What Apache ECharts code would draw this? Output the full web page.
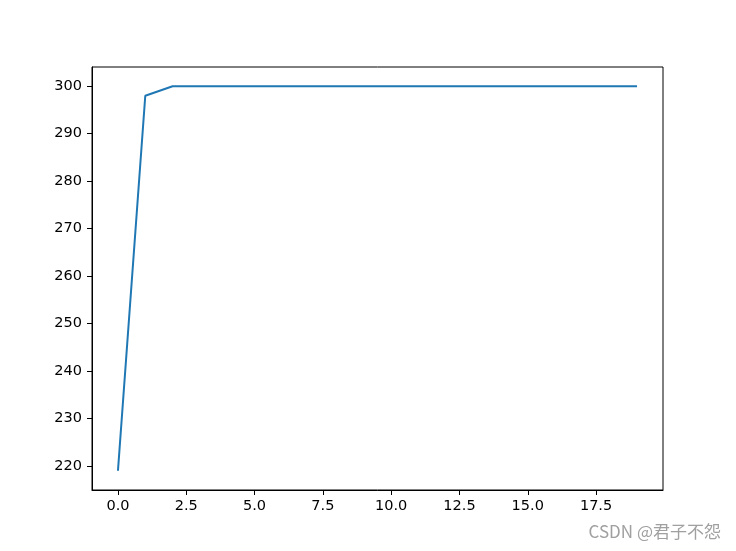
<!DOCTYPE html>
<html>
<head>
<meta charset="utf-8">
<script src="https://cdn.jsdelivr.net/npm/echarts@6/dist/echarts.min.js"></script>
<style>html,body{margin:0;padding:0;background:#fff}#c{width:736px;height:551px}</style>
</head>
<body>
<div id="c"></div>
<script>
const xValues = [0,1,2,3,4,5,6,7,8,9,10,11,12,13,14,15,16,17,18,19];
const yValues = [219,298,300,300,300,300,300,300,300,300,300,300,300,300,300,300,300,300,300,300];
const xTicks = [0,2.5,5,7.5,10,12.5,15,17.5];
const yTicks = [220,230,240,250,260,270,280,290,300];

const chart = echarts.init(document.getElementById('c'));
const font = 'DejaVu Sans';
chart.setOption({
  animation: false,
  grid: {left: 92, right: 73, top: 67, bottom: 61, show: true, borderColor: '#000', borderWidth: 1, backgroundColor: 'transparent'},
  xAxis: {
    type: 'value', min: -0.95, max: 19.95,
    axisLine: {show: true, onZero: false, lineStyle: {color: '#000', width: 1}},
    splitLine: {show: false},
    axisTick: {show: true, customValues: xTicks, length: 5, lineStyle: {color: '#000'}},
    axisLabel: {customValues: xTicks, margin: 9, color: '#000', fontFamily: font, fontSize: 14.5,
      formatter: v => v.toFixed(1)}
  },
  yAxis: {
    type: 'value', min: 214.95, max: 304.05,
    axisLine: {show: true, onZero: false, lineStyle: {color: '#000', width: 1}},
    splitLine: {show: false},
    axisTick: {show: true, customValues: yTicks, length: 5, lineStyle: {color: '#000'}},
    axisLabel: {customValues: yTicks, margin: 10, color: '#000', fontFamily: font, fontSize: 14.5,
      formatter: v => String(v)}
  },
  series: [{
    type: 'line',
    data: xValues.map((x, i) => [x, yValues[i]]),
    showSymbol: false,
    lineStyle: {color: '#1f77b4', width: 2},
    itemStyle: {color: '#1f77b4'}
  }],
  graphic: [{
    type: 'text', right: 15, top: 523,
    style: {text: 'CSDN @君子不怨', fill: '#a0a0a0', font: '17px "Noto Sans CJK SC", sans-serif'}
  }]
});
</script>
</body>
</html>
